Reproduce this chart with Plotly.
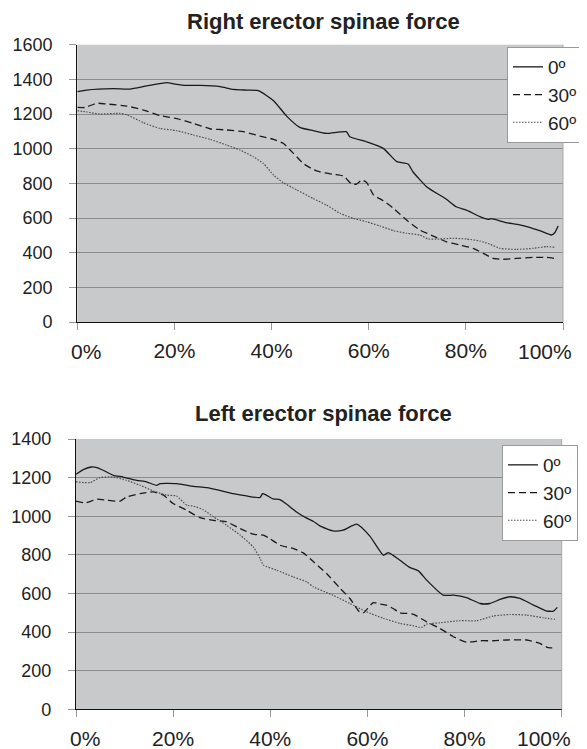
import plotly.graph_objects as go

# ---------------- data ----------------
right_0_x = [0, 1.9, 7.4, 10.8, 14.3, 18.4, 20.1, 22.5, 25.3, 29.4, 32.1, 34.9, 37.3, 40.4, 43.1, 45.8, 48.6, 51.3, 55.4, 56.1, 59.5, 63, 65.8, 68.1, 69.1, 71.9, 76, 78, 80.1, 82.9, 84.6, 85.2, 88.3, 91.1, 95.2, 97.6, 98.3, 99]
right_0_y = [1329, 1338, 1346, 1344, 1362, 1381, 1373, 1365, 1365, 1358, 1342, 1338, 1335, 1277, 1188, 1123, 1104, 1088, 1098, 1069, 1040, 1002, 925, 912, 867, 781, 708, 665, 646, 608, 592, 596, 573, 560, 527, 502, 515, 554]

right_30_x = [0, 1.6, 4, 6, 10.2, 13.6, 17, 20.5, 23.9, 27.3, 30.7, 34.2, 37.6, 40.4, 42.4, 44.5, 46.5, 48.6, 50, 52.7, 54.8, 56.5, 57.5, 58.6, 59.6, 61, 63, 65.1, 67.8, 70.5, 73.3, 76, 78.8, 81.5, 83.6, 85.6, 87.7, 90.4, 93.9, 96.6, 98.3]
right_30_y = [1238, 1238, 1262, 1258, 1246, 1223, 1192, 1173, 1146, 1115, 1108, 1098, 1073, 1054, 1031, 973, 915, 880, 866, 852, 842, 796, 796, 819, 804, 733, 700, 656, 588, 531, 496, 463, 444, 425, 396, 367, 362, 367, 373, 373, 367]

right_60_x = [0, 1.9, 4.7, 8.8, 10.2, 13.6, 17, 20.5, 23.9, 27.3, 30.7, 33.5, 36.2, 38.3, 40.4, 42.4, 45.2, 48.6, 51.3, 54.1, 56.8, 59.5, 62.3, 65.1, 67.8, 70.5, 72.3, 74.6, 77.4, 80.1, 82.9, 84.9, 87, 90.4, 93.9, 96.6, 98.3]
right_60_y = [1219, 1212, 1200, 1204, 1196, 1150, 1117, 1104, 1079, 1054, 1021, 992, 954, 915, 848, 804, 762, 712, 675, 627, 598, 579, 554, 527, 512, 502, 479, 479, 483, 479, 467, 450, 425, 419, 425, 435, 431]

left_0_x = [0, 1.5, 3.2, 4.3, 5.6, 7.7, 9.7, 12.5, 14.5, 16.6, 17.3, 20.7, 24.2, 26.9, 29.6, 32.4, 35.1, 37.9, 38.4, 39.2, 40.6, 42, 43.4, 45.4, 47.5, 48.9, 50.2, 52.9, 55, 57.8, 60.5, 63.3, 64.3, 66.7, 68.8, 70.5, 72.2, 75.6, 77.7, 80.4, 83.2, 85.2, 87.3, 89.4, 91.4, 94.2, 96.9, 98.3, 99.1]
left_0_y = [1217, 1241, 1255, 1252, 1238, 1212, 1203, 1186, 1178, 1160, 1169, 1169, 1155, 1148, 1134, 1117, 1105, 1097, 1117, 1109, 1090, 1086, 1062, 1022, 990, 973, 950, 924, 928, 959, 897, 798, 812, 772, 734, 717, 669, 591, 591, 579, 548, 548, 569, 583, 574, 540, 509, 509, 528]

left_30_x = [0, 1.9, 4.3, 6.3, 9.1, 10.4, 13.2, 15.9, 18, 20, 22.8, 25.5, 28.3, 31, 33.8, 36.5, 38.6, 39.9, 42, 44.7, 46.8, 48.9, 51.6, 54.4, 56.4, 58.5, 59.2, 61.2, 62.6, 63.9, 65.3, 66.7, 69.4, 72.2, 74.9, 77.7, 80.4, 83.2, 85.9, 88.7, 92.8, 95.5, 97.2, 98.6]
left_30_y = [1078, 1069, 1088, 1083, 1078, 1100, 1117, 1126, 1109, 1066, 1031, 993, 979, 971, 936, 907, 902, 884, 850, 833, 810, 764, 703, 626, 574, 500, 500, 552, 545, 540, 522, 500, 493, 453, 419, 376, 348, 355, 355, 359, 359, 341, 319, 319]

left_60_x = [0, 2.9, 4.9, 7.7, 10.4, 13.2, 15.9, 18.7, 20.7, 22.8, 24.2, 26.2, 28.3, 31, 33.8, 36.5, 37.9, 38.6, 41.3, 44.7, 47.5, 48.9, 52.9, 56.4, 59.8, 63.3, 66.7, 69.4, 71.2, 72.2, 74.9, 79, 82.5, 85.9, 89.4, 92.8, 96.2, 98.6]
left_60_y = [1178, 1174, 1200, 1203, 1186, 1160, 1131, 1109, 1105, 1057, 1052, 1034, 997, 953, 902, 841, 781, 747, 721, 686, 660, 634, 591, 548, 505, 471, 445, 433, 424, 441, 448, 459, 459, 483, 491, 488, 474, 466]

series_names = ["0º", "30º", "60º"]
x_ticks = [0, 20, 40, 60, 80, 100]
x_tick_labels = ["0%", "20%", "40%", "60%", "80%", "100%"]
top_y_ticks = [0, 200, 400, 600, 800, 1000, 1200, 1400, 1600]
bottom_y_ticks = [0, 200, 400, 600, 800, 1000, 1200, 1400]
titles = ["Right erector spinae force", "Left erector spinae force"]

# ---------------- styles ----------------
FONT = "Liberation Sans, Arial, sans-serif"
TXT = "#222222"
FS_Y = 18
FS_X = 21
FS_LEG = 19
FS_TITLE = 22
styles = [
    dict(color="#1a1a1a", width=1.3, dash="solid"),
    dict(color="#1a1a1a", width=1.3, dash="7px,4px"),
    dict(color="#4a4a4a", width=1.2, dash="1.5px,1.5px"),
]

fig = go.Figure()

top_data = [(right_0_x, right_0_y), (right_30_x, right_30_y), (right_60_x, right_60_y)]
bot_data = [(left_0_x, left_0_y), (left_30_x, left_30_y), (left_60_x, left_60_y)]

for (xs, ys), name, st in zip(top_data, series_names, styles):
    fig.add_trace(go.Scatter(x=xs, y=ys, name=name, mode="lines",
                             line=dict(shape="spline", smoothing=0.5, **st),
                             xaxis="x", yaxis="y", legend="legend"))
for (xs, ys), name, st in zip(bot_data, series_names, styles):
    fig.add_trace(go.Scatter(x=xs, y=ys, name=name, mode="lines",
                             line=dict(shape="spline", smoothing=0.5, **st),
                             xaxis="x2", yaxis="y2", legend="legend2"))

# the page body has an 8px margin, so the figure is drawn 8px in from the window corner
OFF = 8
W, H = 587 - OFF, 749 - OFF
def px(a):
    return (a - OFF) / W
def py(b):
    return 1 - (b - OFF) / H
def xd(a, b):
    return [px(a), px(b)]
def yd(top, bottom):
    return [py(bottom), py(top)]

# first and last category labels are nudged inwards (as the source chart does),
# so they are drawn as annotations; the inner ones are ordinary tick labels
inner_text = [""] + x_tick_labels[1:-1] + [""]

xaxis_common = dict(range=[0, 100], tickvals=x_ticks, ticktext=inner_text,
                    showgrid=False, zeroline=False, showline=True,
                    linecolor="#111111", linewidth=1.2, automargin=False,
                    ticks="outside", ticklen=7, tickcolor="#999999", tickwidth=1,
                    tickfont=dict(family=FONT, size=FS_X, color=TXT),
                    ticklabelstandoff=3, fixedrange=True)
yaxis_common = dict(showgrid=True, gridcolor="#8c8c8c", gridwidth=1,
                    zeroline=False, showline=True, linecolor="#111111", linewidth=1.2,
                    automargin=False,
                    ticks="outside", ticklen=7, tickcolor="#999999", tickwidth=1,
                    tickfont=dict(family=FONT, size=FS_Y, color=TXT),
                    ticklabelstandoff=13, fixedrange=True)

annotations = [
    dict(text="<b>" + titles[0] + "</b>", x=px(323), y=py(21), xref="paper", yref="paper",
         xanchor="center", yanchor="middle", showarrow=False,
         font=dict(family=FONT, size=FS_TITLE, color=TXT)),
    dict(text="<b>" + titles[1] + "</b>", x=px(323), y=py(414), xref="paper", yref="paper",
         xanchor="center", yanchor="middle", showarrow=False,
         font=dict(family=FONT, size=FS_TITLE, color=TXT)),
]
for xa, ya in (("x", "y domain"), ("x2", "y2 domain")):
    annotations.append(dict(text=x_tick_labels[0], x=x_ticks[0], y=0, xref=xa, yref=ya,
                            xanchor="center", yanchor="middle", xshift=9, yshift=-29,
                            showarrow=False, font=dict(family=FONT, size=FS_X, color=TXT)))
    annotations.append(dict(text=x_tick_labels[-1], x=x_ticks[-1], y=0, xref=xa, yref=ya,
                            xanchor="center", yanchor="middle", xshift=-18, yshift=-29,
                            showarrow=False, font=dict(family=FONT, size=FS_X, color=TXT)))

fig.update_layout(
    width=W, height=H,
    margin=dict(l=0, r=0, t=0, b=0),
    paper_bgcolor="white",
    plot_bgcolor="#c8c9cb",
    font=dict(family=FONT, size=FS_Y, color=TXT),
    xaxis=dict(domain=xd(77.3, 563), anchor="y", **xaxis_common),
    yaxis=dict(domain=yd(44.7, 322), anchor="x", range=[0, 1600], tickvals=top_y_ticks, **yaxis_common),
    xaxis2=dict(domain=xd(76, 561.7), anchor="y2", **xaxis_common),
    yaxis2=dict(domain=yd(439, 709.3), anchor="x2", range=[0, 1400], tickvals=bottom_y_ticks, **yaxis_common),
    legend=dict(x=px(507), y=py(47), xanchor="left", yanchor="top",
                bgcolor="white", bordercolor="#9a9a9a", borderwidth=1,
                font=dict(family=FONT, size=FS_LEG, color=TXT),
                itemwidth=30, tracegroupgap=0),
    legend2=dict(x=px(502), y=py(445), xanchor="left", yanchor="top",
                 bgcolor="white", bordercolor="#9a9a9a", borderwidth=1,
                 font=dict(family=FONT, size=FS_LEG, color=TXT),
                 itemwidth=30, tracegroupgap=0),
    annotations=annotations,
)

# right plot-area edge (thin light line as in the reference)
fig.add_shape(type="line", xref="x domain", yref="y domain", x0=1, x1=1, y0=0, y1=1,
              line=dict(color="#a8a8a8", width=1))
fig.add_shape(type="line", xref="x2 domain", yref="y2 domain", x0=1, x1=1, y0=0, y1=1,
              line=dict(color="#a8a8a8", width=1))

fig.write_html("out.html")
